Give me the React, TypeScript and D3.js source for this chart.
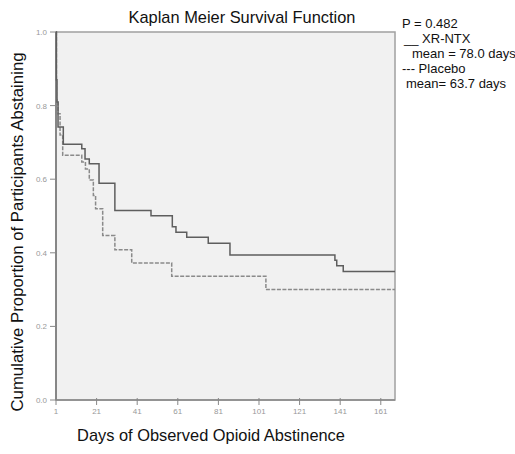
import React from "react";
import * as d3 from "d3";

const xrTimes = [1, 1.2, 1.5, 2, 4.6, 13.7, 15.3, 17.4, 22.2, 30, 47.8, 58.3, 60.1, 65.4, 76, 86.7, 138.4, 139.3, 142.5];
const xrSurv = [1.0, 0.87, 0.81, 0.742, 0.695, 0.683, 0.655, 0.642, 0.589, 0.515, 0.501, 0.471, 0.456, 0.442, 0.426, 0.394, 0.38, 0.365, 0.349];
const plTimes = [1, 1.2, 2, 3, 4.3, 13.7, 15.5, 17.4, 19.4, 20.5, 24, 30, 38.3, 58, 104.4];
const plSurv = [1.0, 0.815, 0.778, 0.72, 0.665, 0.647, 0.628, 0.598, 0.556, 0.52, 0.447, 0.408, 0.372, 0.336, 0.3];
const xTicks = [1, 21, 41, 61, 81, 101, 121, 141, 161];
const yTicks = [0, 0.2, 0.4, 0.6, 0.8, 1.0];
const xMax = 168;
const legendLines = ["P = 0.482", "__ XR-NTX", "mean = 78.0 days", "--- Placebo", "mean= 63.7 days"];
const legendIndent = [0, 2, 10, 0, 4];

const FONT = "'Liberation Sans', Arial, Helvetica, sans-serif";

export default function App() {
  const W = 515, H = 454;
  const left = 56, right = 395, top = 32, bottom = 400;
  const x = d3.scaleLinear().domain([1, xMax]).range([left, right]);
  const y = d3.scaleLinear().domain([0, 1]).range([bottom, top]);
  const line = d3
    .line<[number, number]>()
    .x((d) => x(d[0]))
    .y((d) => y(d[1]))
    .curve(d3.curveStepAfter);
  const xrData: [number, number][] = xrTimes.map((t, i) => [t, xrSurv[i]]);
  xrData.push([xMax, xrSurv[xrSurv.length - 1]]);
  const plData: [number, number][] = plTimes.map((t, i) => [t, plSurv[i]]);
  plData.push([xMax, plSurv[plSurv.length - 1]]);

  return (
    <svg width={W} height={H} style={{ position: "absolute", left: 0, top: 0, background: "#fff" }} fontFamily={FONT}>
      <rect x={left} y={top} width={right - left} height={bottom - top} fill="#f1f1f1" stroke="#a0a0a0" strokeWidth={1.5} />
      <line x1={left} x2={left} y1={top} y2={bottom} stroke="#777" strokeWidth={1.5} />
      <line x1={left} x2={right} y1={bottom} y2={bottom} stroke="#888" strokeWidth={1.5} />
      {yTicks.map((t) => (
        <g key={"y" + t}>
          <line x1={left - 6} x2={left} y1={y(t)} y2={y(t)} stroke="#888" strokeWidth={1} />
          <text x={left - 9} y={y(t) + 3} fontSize={8} fill="#999" textAnchor="end">
            {t.toFixed(1)}
          </text>
        </g>
      ))}
      {xTicks.map((t) => (
        <g key={"x" + t}>
          <line x1={x(t)} x2={x(t)} y1={bottom - 2} y2={bottom + 5} stroke="#888" strokeWidth={1} />
          <text x={x(t)} y={bottom + 14} fontSize={8} fill="#999" textAnchor="middle">
            {t}
          </text>
        </g>
      ))}
      <path d={line(plData) || ""} fill="none" stroke="#8a8a8a" strokeWidth={1.5} strokeDasharray="4,1.5" />
      <path d={line(xrData) || ""} fill="none" stroke="#5e5e5e" strokeWidth={1.5} />
      <text x={242} y={23} fontSize={16.4} textAnchor="middle" fill="#111">
        Kaplan Meier Survival Function
      </text>
      <text x={211} y={441} fontSize={16.4} textAnchor="middle" fill="#111">
        Days of Observed Opioid Abstinence
      </text>
      <text transform={`translate(23,232) rotate(-90)`} fontSize={16.8} textAnchor="middle" fill="#111">
        Cumulative Proportion of Participants Abstaining
      </text>
      {legendLines.map((s, i) => (
        <text key={"l" + i} x={402 + legendIndent[i]} y={28 + i * 15} fontSize={13} fill="#111">
          {s}
        </text>
      ))}
    </svg>
  );
}
